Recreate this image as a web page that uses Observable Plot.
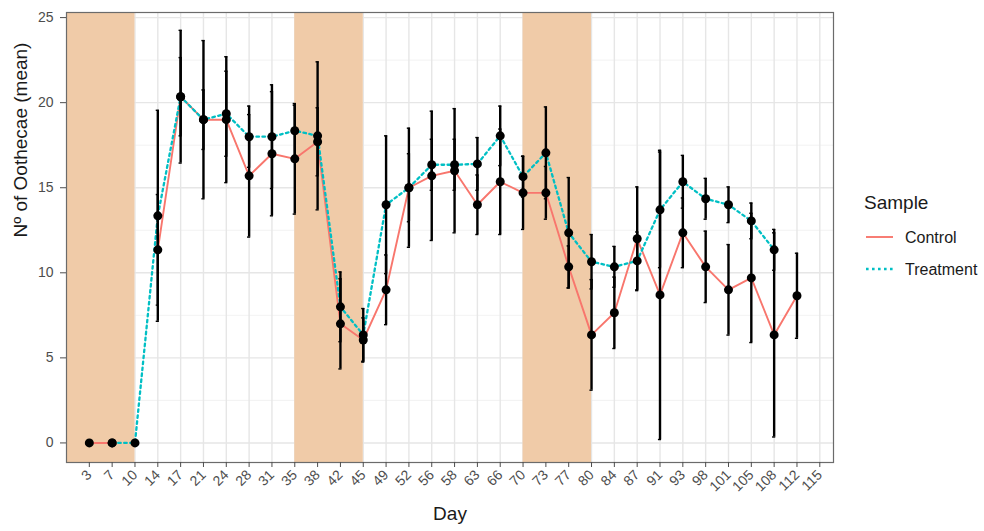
<!DOCTYPE html>
<html><head><meta charset="utf-8">
<script src="https://cdn.jsdelivr.net/npm/d3@7"></script>
<script src="https://cdn.jsdelivr.net/npm/@observablehq/plot@0.6"></script>
<style>
body{margin:0;background:#fff;}
#chart{width:984px;height:531px;}
#chart svg{font-family:"Liberation Sans", Arial, sans-serif;}
</style></head><body><div id="chart"></div>
<script>
// Day categories (discrete x axis)
const days = [3,7,10,14,17,21,24,28,31,35,38,42,45,49,52,56,58,63,66,70,73,77,80,84,87,91,93,98,101,105,108,112,115];
// Control series: mean and half-width of error bar (null = no value)
const controlMean = [0,0,null,11.35,20.35,19.0,19.0,15.7,17.0,16.7,17.7,7.0,6.05,9.0,15.0,15.7,16.0,14.0,15.35,14.7,14.7,10.35,6.35,7.65,12.0,8.7,12.35,10.35,9.0,9.7,6.35,8.65,null];
const controlErr  = [null,null,null,3.25,2.3,1.75,3.7,3.6,3.65,3.25,2.0,2.65,1.3,2.05,3.5,3.8,3.65,1.75,3.1,2.15,1.55,1.23,3.25,2.1,3.05,8.5,2.05,2.1,2.66,3.8,6.0,2.5,null];
// Treatment series
const treatmentMean = [null,0,0,13.35,20.35,19.0,19.35,18.0,18.0,18.35,18.05,8.0,6.35,14.0,15.0,16.35,16.35,16.4,18.05,15.65,17.05,12.35,10.65,10.35,10.7,13.7,15.35,14.35,14.0,13.05,11.35,null,null];
const treatmentErr  = [null,null,null,6.2,3.9,4.65,2.5,1.8,3.05,1.5,4.35,2.05,1.55,4.05,2.0,1.5,1.5,1.55,1.75,1.2,2.7,3.25,1.6,1.2,1.7,3.4,1.55,1.2,1.05,1.05,1.2,null,null];
// Shaded periods (days); day 0 = start of the axis
const shadeFrom = [0,35,70];
const shadeTo   = [10,45,80];
// y ticks
const yTicks = [0,5,10,15,20,25];
const yMinor = [2.5,7.5,12.5,17.5,22.5];

const colors = {Control:"#F8766D", Treatment:"#00BFC4"};
const pos = d => d < days[0] ? -1 : days.indexOf(d);

const toNum = v => v == null ? NaN : v;
const ctrl = days.map((d,i)=>({sample:"Control", pos:i, mean:toNum(controlMean[i]), err:controlErr[i]}));
const trt  = days.map((d,i)=>({sample:"Treatment", pos:i, mean:toNum(treatmentMean[i]), err:treatmentErr[i]}));
const all = ctrl.concat(trt);
const errRows = all.filter(r => !isNaN(r.mean) && r.err != null);
const dotRows = all.filter(r => !isNaN(r.mean));
const shades = shadeFrom.map((s,i)=>({x1:pos(s), x2:pos(shadeTo[i])}));

const xDomain = [-1, 32.6];
const yDomain = [-1.15, 25.3];
const cap = 0.07;

const plot = Plot.plot({
  width:984, height:531,
  marginLeft:66, marginRight:151, marginTop:12, marginBottom:69,
  style:{background:"white", fontFamily:"Liberation Sans, Arial, sans-serif"},
  x:{type:"linear", domain:xDomain},
  y:{type:"linear", domain:yDomain},
  marks:[
    Plot.ruleY(yMinor, {stroke:"#EFEFEF", strokeWidth:0.8}),
    Plot.ruleY(yTicks, {stroke:"#E6E6E6", strokeWidth:1.4}),
    Plot.ruleX(d3.range(days.length), {stroke:"#E6E6E6", strokeWidth:1.4}),
    Plot.rect(shades, {x1:"x1", x2:"x2", y1:()=>yDomain[0], y2:()=>yDomain[1], fill:"#F0CBA8"}),
    Plot.line(ctrl, {x:"pos", y:"mean", stroke:colors.Control, strokeWidth:1.9}),
    Plot.line(trt, {x:"pos", y:"mean", stroke:colors.Treatment, strokeWidth:2.3, strokeDasharray:"2.6,3.4"}),
    Plot.ruleX(errRows, {x:"pos", y1:d=>d.mean-d.err, y2:d=>d.mean+d.err, stroke:"black", strokeWidth:2.4}),
    Plot.ruleY(errRows, {y:d=>d.mean-d.err, x1:d=>d.pos-cap, x2:d=>d.pos+cap, stroke:"black", strokeWidth:1.4}),
    Plot.ruleY(errRows, {y:d=>d.mean+d.err, x1:d=>d.pos-cap, x2:d=>d.pos+cap, stroke:"black", strokeWidth:1.4}),
    Plot.dot(dotRows, {x:"pos", y:"mean", r:4.5, fill:"black", stroke:"none"}),
    Plot.frame({stroke:"#6b6b6b", strokeWidth:1.2}),
    Plot.axisX({ticks:d3.range(days.length), tickFormat:i=>String(days[i]), tickRotate:-45, tickSize:5, tickPadding:5, fontSize:14, color:"#4D4D4D", label:null}),
    Plot.axisY({ticks:yTicks, tickSize:6, tickPadding:7, fontSize:14, color:"#4D4D4D", label:null}),
    Plot.text(["Nº of Oothecae (mean)"], {frameAnchor:"left", dx:-46, rotate:-90, fontSize:19, fill:"#1a1a1a"}),
    Plot.text(["Day"], {frameAnchor:"bottom", dy:57, fontSize:19, fill:"#1a1a1a"})
  ]
});

// Legend
const svg = d3.select(plot);
const lg = svg.append("g").attr("font-family","Liberation Sans, Arial, sans-serif").attr("text-anchor","start");
lg.append("text").attr("x",864).attr("y",202).attr("dy","0.35em").attr("font-size",19).attr("fill","#1a1a1a").attr("text-anchor","start").text("Sample");
const items = [
  {label:"Control", color:colors.Control, dash:null, w:1.9, y:237},
  {label:"Treatment", color:colors.Treatment, dash:"2.6,3.4", w:2.3, y:269}
];
items.forEach(it=>{
  const l = lg.append("line").attr("x1",866).attr("x2",893).attr("y1",it.y).attr("y2",it.y)
    .attr("stroke",it.color).attr("stroke-width",it.w);
  if (it.dash) l.attr("stroke-dasharray", it.dash);
  lg.append("text").attr("x",905).attr("y",it.y).attr("dy","0.35em").attr("font-size",16).attr("fill","#1a1a1a").attr("text-anchor","start").text(it.label);
});

document.getElementById("chart").appendChild(plot);
</script>
</body></html>
